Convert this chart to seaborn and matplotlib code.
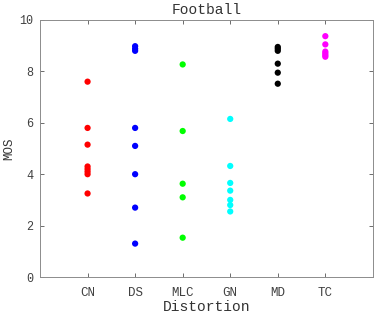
import pandas as pd
import numpy as np
import matplotlib
matplotlib.use("Agg")
import matplotlib.pyplot as plt
import seaborn as sns

# valeurs
categories = ["CN", "DS", "MLC", "GN", "MD", "TC"]
cn = [7.6, 5.8, 5.15, 4.3, 4.2, 4.1, 4.0, 3.25]
ds = [8.98, 8.88, 8.8, 5.8, 5.1, 4.0, 2.7, 1.3]
mlc = [8.27, 5.68, 3.63, 3.1, 1.53]
gn = [6.15, 4.32, 3.66, 3.36, 3.0, 2.8, 2.55]
md = [8.95, 8.88, 8.8, 8.3, 7.95, 7.52]
tc = [9.37, 9.05, 8.77, 8.7, 8.63, 8.57]
couleurs = ["#ff0000", "#0000ff", "#00ff00", "#00ffff", "#000000", "#ff00ff"]

valeurs = [cn, ds, mlc, gn, md, tc]
df = pd.DataFrame({
    "Distortion": np.repeat(categories, [len(v) for v in valeurs]),
    "MOS": np.concatenate(valeurs),
})

sns.set_style("white")
plt.rcParams["font.family"] = ["Liberation Mono", "DejaVu Sans Mono"]

fig = plt.figure(figsize=(3.74, 3.15), dpi=100)
ax = fig.add_axes([0.107, 0.1206, 0.89, 0.816])

sns.stripplot(data=df, x="Distortion", y="MOS", hue="Distortion", order=categories,
              hue_order=categories, palette=couleurs, jitter=False, size=4.5,
              linewidth=0, legend=False, ax=ax)

ax.set_xlim(-1, 6)
ax.set_ylim(0, 10)
ax.set_yticks([0, 2, 4, 6, 8, 10])
ax.set_title("Football", fontsize=10.5, color="#333333", pad=4)
ax.set_xlabel("Distortion", fontsize=10.5, color="#333333", labelpad=1)
ax.set_ylabel("MOS", fontsize=9, color="#333333", labelpad=3)
ax.tick_params(direction="in", length=3, width=0.6, color="#555555",
               labelsize=9, labelcolor="#404040",
               bottom=True, left=True, top=True, right=True)
ax.tick_params(axis="x", pad=7)
ax.tick_params(axis="y", pad=5, labelsize=8.5)
for s in ax.spines.values():
    s.set_color("#8c8c8c")
    s.set_linewidth(0.7)

plt.savefig("out.png", dpi=100)
